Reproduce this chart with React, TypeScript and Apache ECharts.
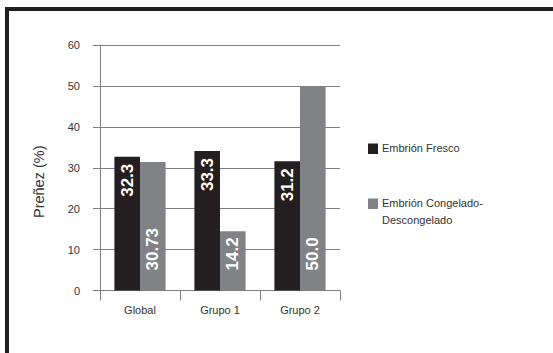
import React, { useEffect, useRef } from "react";
import * as echarts from "echarts";

const categories = ["Global", "Grupo 1", "Grupo 2"];
const seriesNames = ["Embrión Fresco", "Embrión Congelado-Descongelado"];
const freshValues = [32.7, 34.1, 31.6];
const frozenValues = [31.4, 14.5, 50.0];
const freshLabels = ["32.3", "33.3", "31.2"];
const frozenLabels = ["30.73", "14.2", "50.0"];
const yTicks = { min: 0, max: 60, interval: 10 };

const NARROW = "'Liberation Sans', Arial, sans-serif";
const SANS = "'Liberation Sans', Arial, sans-serif";
const FRESH = "#231f20";
const FROZEN = "#808285";
const AXIS = "#7f7f7f";

export default function App() {
  const ref = useRef<HTMLDivElement>(null);
  useEffect(() => {
    if (!ref.current) return;
    const chart = echarts.init(ref.current, null, { renderer: "svg" });
    chart.setOption({
      animation: false,
      backgroundColor: "#ffffff",
      grid: { left: 100, right: 213, top: 45, bottom: 62.5 },
      xAxis: {
        type: "category",
        data: categories,
        axisLine: { show: true, lineStyle: { color: AXIS, width: 1 } },
        axisTick: { show: true, length: 10, lineStyle: { color: AXIS } },
        axisLabel: { color: "#333", fontFamily: NARROW, fontSize: 11, margin: 14 },
        splitLine: { show: false },
      },
      yAxis: {
        type: "value",
        min: yTicks.min,
        max: yTicks.max,
        interval: yTicks.interval,
        name: "Preñez (%)",
        nameLocation: "middle",
        nameGap: 54,
        nameRotate: 90,
        nameTextStyle: { color: "#333", fontFamily: SANS, fontSize: 14.5, padding: [0, 28, 0, 0] },
        axisLine: { show: true, lineStyle: { color: AXIS, width: 1 } },
        axisTick: { show: true, inside: false, length: 7, lineStyle: { color: AXIS } },
        axisLabel: { color: "#333", fontFamily: NARROW, fontSize: 11, margin: 20 },
        splitLine: { show: true, lineStyle: { color: AXIS, width: 1 } },
      },
      series: [
        {
          name: seriesNames[0],
          type: "bar",
          data: freshValues,
          barGap: "0%",
          barCategoryGap: "36%",
          itemStyle: { color: FRESH },
          label: {
            show: true,
            position: "insideTop",
            rotate: 90,
            align: "right",
            verticalAlign: "middle",
            distance: 7,
            color: "#fff",
            fontFamily: SANS,
            fontWeight: "bold",
            fontSize: 17,
            formatter: (p: any) => freshLabels[p.dataIndex],
          },
        },
        {
          name: seriesNames[1],
          type: "bar",
          data: frozenValues,
          barGap: "0%",
          barCategoryGap: "36%",
          itemStyle: { color: FROZEN },
          label: {
            show: true,
            position: "insideBottom",
            rotate: 90,
            align: "left",
            verticalAlign: "middle",
            distance: 20,
            color: "#fff",
            fontFamily: SANS,
            fontWeight: "bold",
            fontSize: 17,
            formatter: (p: any) => frozenLabels[p.dataIndex],
          },
        },
      ],
      graphic: [
        { type: "rect", shape: { x: 5, y: 7, width: 548, height: 4 }, style: { fill: FRESH } },
        { type: "rect", shape: { x: 5, y: 7, width: 4, height: 346 }, style: { fill: FRESH } },
        { type: "rect", shape: { x: 368, y: 143.5, width: 10, height: 10.5 }, style: { fill: FRESH } },
        {
          type: "text",
          x: 382,
          y: 148,
          style: {
            text: seriesNames[0],
            fill: "#333",
            font: `11px ${NARROW}`,
            verticalAlign: "middle",
          },
        },
        { type: "rect", shape: { x: 368, y: 198.5, width: 10, height: 10.5 }, style: { fill: FROZEN } },
        {
          type: "text",
          x: 382,
          y: 195,
          style: {
            text: seriesNames[1].replace("-", "-\n"),
            fill: "#333",
            font: `11px ${NARROW}`,
            lineHeight: 16.5,
            verticalAlign: "top",
          },
        },
      ],
    });
    return () => chart.dispose();
  }, []);
  return (
    <div
      ref={ref}
      style={{ position: "absolute", left: 0, top: 0, width: 553, height: 353, background: "#fff" }}
    />
  );
}
